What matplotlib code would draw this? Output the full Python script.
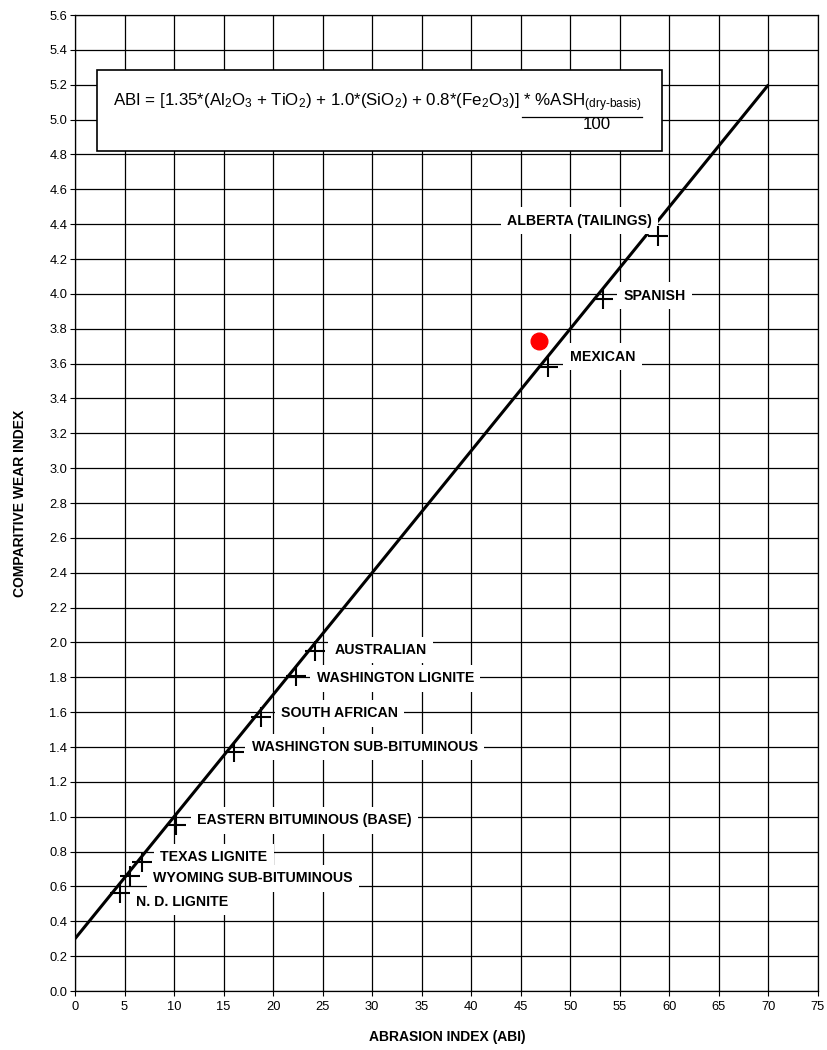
import matplotlib
matplotlib.use("Agg")
import matplotlib.pyplot as plt
import numpy as np
from matplotlib.patches import Rectangle

plt.rcParams['font.family'] = ['Liberation Sans', 'DejaVu Sans']
plt.rcParams['mathtext.fontset'] = 'custom'
plt.rcParams['mathtext.rm'] = 'Liberation Sans'
plt.rcParams['mathtext.it'] = 'Liberation Sans:italic'
plt.rcParams['mathtext.bf'] = 'Liberation Sans:bold'

# ---- data ----
coal_names = ["N. D. LIGNITE", "WYOMING SUB-BITUMINOUS", "TEXAS LIGNITE",
              "EASTERN BITUMINOUS (BASE)", "WASHINGTON SUB-BITUMINOUS",
              "SOUTH AFRICAN", "WASHINGTON LIGNITE", "AUSTRALIAN",
              "MEXICAN", "SPANISH", "ALBERTA (TAILINGS)"]
abi_values = [4.5, 5.6, 6.8, 10.2, 16.0, 18.8, 22.3, 24.2, 47.7, 53.3, 58.8]
wear_values = [0.56, 0.66, 0.74, 0.95, 1.37, 1.57, 1.81, 1.95, 3.58, 3.97, 4.33]
label_x = [6.2, 7.9, 8.6, 12.35, 17.85, 20.8, 24.4, 26.2, 49.95, 55.35, 43.6]
label_y = [0.51, 0.647, 0.767, 0.98, 1.40, 1.593, 1.794, 1.956, 3.64, 3.99, 4.42]

fit_x = [0, 70]
fit_y = [0.3, 5.2]

sample_x = [46.8]
sample_y = [3.73]

x_ticks = list(range(0, 80, 5))
y_ticks = [round(0.2 * i, 1) for i in range(29)]

# ---- figure ----
fig = plt.figure(figsize=(8.27, 10.5), dpi=100)
ax = fig.add_axes([75/827, 1 - 991/1050, (818-75)/827, (991-15)/1050])
ax.set_xlim(0, 75)
ax.set_ylim(0, 5.6)
ax.set_xticks(x_ticks)
ax.set_yticks(y_ticks)
ax.set_yticklabels([f"{v:.1f}" for v in y_ticks])
ax.tick_params(direction='out', length=3.5, width=0.8, labelsize=9.3, pad=2, colors='black')
ax.tick_params(axis='x', pad=4)
ax.grid(True, color='black', linewidth=0.9)
ax.set_axisbelow(True)
for s in ax.spines.values():
    s.set_linewidth(0.9)
    s.set_color('black')

# fitted line
ax.plot(fit_x, fit_y, color='black', linewidth=2.2, zorder=2, solid_capstyle='butt')

# labels with white boxes covering grid
for name, lx, ly in zip(coal_names, label_x, label_y):
    ax.text(lx, ly, name, fontsize=10.2, fontweight='bold', ha='left', va='center',
            zorder=3,
            bbox=dict(boxstyle='square,pad=0.45', facecolor='white', edgecolor='none'))

# markers
ax.plot(abi_values, wear_values, linestyle='none', marker='+', markersize=14,
        markeredgewidth=1.5, color='black', zorder=4)

# red sample point
ax.plot(sample_x, sample_y, linestyle='none', marker='o', markersize=12,
        color='#ff0000', markeredgecolor='#ff0000', zorder=5)

# equation box
ax.add_patch(Rectangle((2.2, 4.82), 59.25 - 2.2, 5.284 - 4.82, facecolor='white',
                       edgecolor='black', linewidth=1.2, zorder=3))

eq_main = r"ABI = [1.35*(Al$_2$O$_3$ + TiO$_2$) + 1.0*(SiO$_2$) + 0.8*(Fe$_2$O$_3$)]"
eq_tail = r" * %ASH$_{\text{(dry-basis)}}$"
px_x = 743 / 75
px_y = 976 / 5.6
x0 = (113 - 75) / px_x
y_base = (991 - 106) / px_y
eq_fs = 12.2
t_full = ax.text(x0, y_base, eq_main + eq_tail, fontsize=eq_fs, ha='left', va='baseline', zorder=4)
fig.canvas.draw()
r = fig.canvas.get_renderer()
tmp = ax.text(x0, y_base, eq_main, fontsize=eq_fs, ha='left', va='baseline')
w_main = tmp.get_window_extent(r)
tmp.remove()
w_full = t_full.get_window_extent(r)
inv = ax.transData.inverted()
xs = inv.transform([(w_main.x1, 0), (w_full.x1, 0)])[:, 0]
y_ul = (991 - 117) / px_y
ax.plot([xs[0] + 0.2, xs[1]], [y_ul, y_ul], color='black', linewidth=0.9, zorder=4)
ax.text((xs[0] + xs[1]) / 2 + 1.6, (991 - 124) / px_y, "100", fontsize=eq_fs,
        ha='center', va='center', zorder=4)

# axis labels
ax.text((447 - 75) / 743, (991 - 1037) / 976, "ABRASION INDEX (ABI)", transform=ax.transAxes,
        fontsize=10, fontweight='bold', ha='center', va='center')
ax.text((20 - 75) / 743, 0.5, "COMPARITIVE WEAR INDEX", transform=ax.transAxes,
        fontsize=10, fontweight='bold', ha='center', va='center', rotation=90)

fig.savefig("out.png", dpi=100)
